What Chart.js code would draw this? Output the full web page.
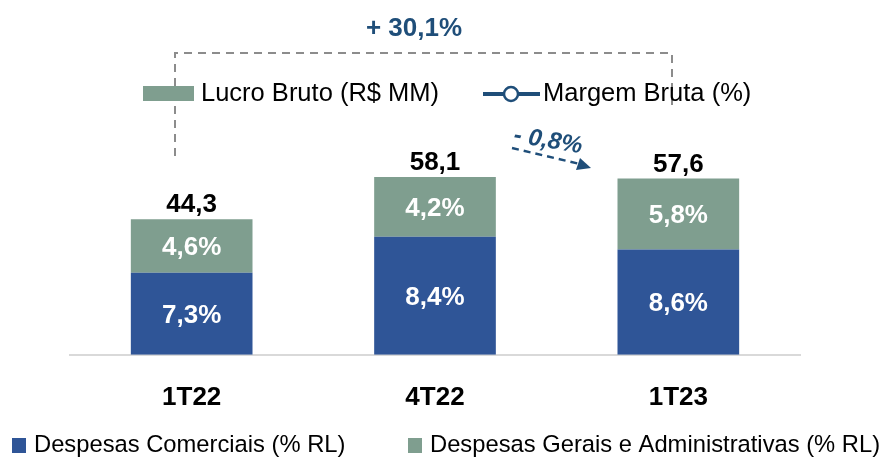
<!DOCTYPE html>
<html>
<head>
<meta charset="utf-8">
<script src="https://cdn.jsdelivr.net/npm/chart.js@4.4.0/dist/chart.umd.min.js"></script>
<style>
  html, body { margin: 0; padding: 0; background: #ffffff; }
  #wrap { width: 894px; height: 458px; }
</style>
</head>
<body>
<div id="wrap"><canvas id="myChart" width="894" height="458"></canvas></div>
<script>
// data
const categories = ['1T22', '4T22', '1T23'];
const comerciaisValues = [26.8, 38.6, 34.4];     // lower (blue) part of each bar
const geraisValues = [17.5, 19.5, 23.2];         // upper (green) part of each bar
const comerciaisLabels = ['7,3%', '8,4%', '8,6%'];
const geraisLabels = ['4,6%', '4,2%', '5,8%'];
const totalLabels = ['44,3', '58,1', '57,6'];    // Lucro Bruto (R$ MM)

const blue = '#2F5597';
const green = '#7F9E8F';
const navy = '#1F4E79';
const font = '"Liberation Sans", Arial, sans-serif';

// labels inside and on top of the bars
const barLabels = {
    id: 'barLabels',
    afterDatasetsDraw(chart) {
        const ctx = chart.ctx;
        ctx.save();
        ctx.textAlign = 'center';
        ctx.textBaseline = 'middle';
        ctx.font = 'bold 26px ' + font;
        const inner = [comerciaisLabels, geraisLabels];
        chart.data.datasets.forEach((ds, d) => {
            chart.getDatasetMeta(d).data.forEach((bar, i) => {
                ctx.fillStyle = '#ffffff';
                ctx.fillText(inner[d][i], bar.x, (bar.y + bar.base) / 2 + 2);
                if (d == 1) {
                    ctx.fillStyle = '#000000';
                    ctx.fillText(totalLabels[i], bar.x, bar.y - 14);
                }
            });
        });
        ctx.restore();
    }
};

// legends and the two comparison notes
const extras = {
    id: 'extras',
    afterDraw(chart) {
        const ctx = chart.ctx;
        ctx.save();

        // dashed bracket + 30,1%
        ctx.strokeStyle = '#8C8C8C';
        ctx.lineWidth = 2;
        ctx.setLineDash([8, 6]);
        ctx.beginPath();
        ctx.moveTo(175, 156);
        ctx.lineTo(175, 53);
        ctx.lineTo(672, 53);
        ctx.lineTo(672, 110);
        ctx.stroke();
        ctx.setLineDash([]);

        ctx.fillStyle = navy;
        ctx.font = 'bold 26px ' + font;
        ctx.textAlign = 'center';
        ctx.textBaseline = 'middle';
        ctx.fillText('+ 30,1%', 414, 29);

        // top legend
        ctx.fillStyle = green;
        ctx.fillRect(143, 86, 51, 15);
        ctx.fillStyle = '#000000';
        ctx.font = '25.5px ' + font;
        ctx.textAlign = 'left';
        ctx.fillText('Lucro Bruto (R$ MM)', 201, 94);

        ctx.strokeStyle = navy;
        ctx.lineWidth = 4;
        ctx.beginPath();
        ctx.moveTo(483, 94);
        ctx.lineTo(540, 94);
        ctx.stroke();
        ctx.beginPath();
        ctx.arc(511, 94, 7, 0, Math.PI * 2);
        ctx.fillStyle = '#ffffff';
        ctx.fill();
        ctx.lineWidth = 2.5;
        ctx.stroke();
        ctx.fillStyle = '#000000';
        ctx.fillText('Margem Bruta (%)', 543, 94);

        // - 0,8% arrow
        ctx.strokeStyle = navy;
        ctx.lineWidth = 2.5;
        ctx.setLineDash([7, 5]);
        ctx.beginPath();
        ctx.moveTo(512, 148);
        ctx.lineTo(580, 164);
        ctx.stroke();
        ctx.setLineDash([]);
        ctx.fillStyle = navy;
        ctx.beginPath();
        ctx.moveTo(591, 168);
        ctx.lineTo(576, 170);
        ctx.lineTo(580, 158);
        ctx.closePath();
        ctx.fill();

        ctx.save();
        ctx.translate(548, 141);
        ctx.rotate(0.17);
        ctx.font = 'italic bold 24px ' + font;
        ctx.textAlign = 'center';
        ctx.fillText('- 0,8%', 0, 0);
        ctx.restore();

        // bottom legend
        ctx.font = '23.75px ' + font;
        ctx.textAlign = 'left';
        ctx.fillStyle = blue;
        ctx.fillRect(12, 438, 14, 15);
        ctx.fillStyle = '#000000';
        ctx.fillText(chart.data.datasets[0].label, 34, 445);
        ctx.fillStyle = green;
        ctx.fillRect(408, 438, 14, 15);
        ctx.fillStyle = '#000000';
        ctx.fillText(chart.data.datasets[1].label, 430, 445);

        ctx.restore();
    }
};

let myChart = document.getElementById('myChart').getContext('2d');

let chart1 = new Chart(myChart, {
    type: 'bar',
    data: {
        labels: categories,
        datasets: [
            {
                label: 'Despesas Comerciais (% RL)',
                data: comerciaisValues,
                backgroundColor: blue
            },
            {
                label: 'Despesas Gerais e Administrativas (% RL)',
                data: geraisValues,
                backgroundColor: green
            }
        ]
    },
    options: {
        responsive: false,
        animation: false,
        devicePixelRatio: 1,
        layout: {
            padding: { left: 70, right: 94, top: 0, bottom: 18 }
        },
        datasets: {
            bar: { barPercentage: 0.5, categoryPercentage: 1 }
        },
        scales: {
            x: {
                stacked: true,
                grid: { display: false, drawTicks: false },
                border: { display: true, color: '#D9D9D9', width: 2 },
                ticks: {
                    color: '#000000',
                    padding: 27,
                    font: { family: font, size: 26, weight: 'bold' }
                }
            },
            y: {
                stacked: true,
                display: false,
                min: 0,
                max: 116
            }
        },
        plugins: {
            legend: { display: false },
            tooltip: { enabled: false }
        }
    },
    plugins: [barLabels, extras]
});
</script>
</body>
</html>
